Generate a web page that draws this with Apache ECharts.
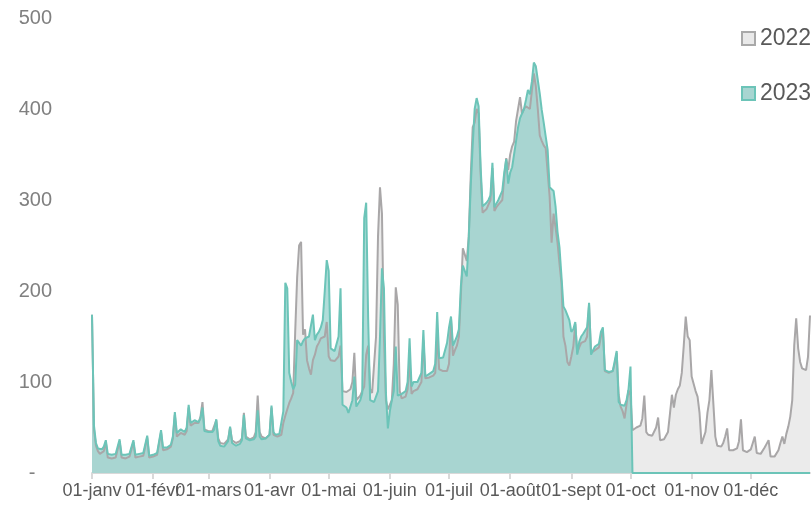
<!DOCTYPE html>
<html>
<head>
<meta charset="utf-8">
<script src="https://cdn.jsdelivr.net/npm/echarts@6/dist/echarts.min.js"></script>
<style>
  html, body { margin: 0; padding: 0; background: #fff; }
  #chart { width: 811px; height: 508px; }
</style>
</head>
<body>
<div id="chart"></div>
<script>
// months used for the day categories (labels shown only on the 1st)
const monthNames = ['janv', 'févr', 'mars', 'avr', 'mai', 'juin', 'juil', 'août', 'sept', 'oct', 'nov', 'déc'];
const monthLengths = [31, 28, 31, 30, 31, 30, 31, 31, 30, 31, 30, 31];
const seriesNames = ['2022', '2023'];
const yTicks = [0, 100, 200, 300, 400, 500];

// daily values, one row per week starting Jan 1
const values2022 = [
  174, 48, 30, 24, 21, 20, 24,
  34, 17, 16, 16, 17, 17, 18,
  35, 17, 16, 16, 17, 18, 19,
  34, 17, 17, 18, 18, 19, 20,
  39, 17, 17, 18, 19, 20, 22,
  45, 25, 25, 26, 27, 29, 38,
  64, 40, 42, 44, 44, 42, 46,
  72, 52, 54, 55, 54, 55, 62,
  78, 48, 46, 46, 46, 46, 48,
  58, 38, 33, 32, 32, 33, 37,
  50, 36, 34, 33, 34, 35, 38,
  66, 40, 38, 37, 38, 39, 45,
  85, 45, 40, 38, 38, 39, 42,
  72, 42, 40, 40, 41, 42, 55,
  63, 70, 77, 82, 88, 154, 215,
  250, 254, 152, 158, 124, 115, 108,
  124, 130, 139, 143, 148, 148, 150,
  166, 128, 124, 124, 123, 124, 128,
  140, 90, 88, 89, 90, 92, 100,
  132, 80, 82, 85, 87, 95, 130,
  140, 92, 88, 90, 150, 260, 314,
  285, 150, 80, 70, 70, 80, 120,
  204, 185, 90, 82, 82, 84, 92,
  124, 87, 90, 90, 92, 94, 100,
  146, 104, 105, 105, 106, 107, 110,
  150, 114, 112, 112, 111, 112, 120,
  170, 129, 135, 140, 150, 195, 247,
  240, 233, 260, 326, 380, 385, 400,
  395, 330, 286, 288, 290, 292, 300,
  335, 288, 292, 295, 297, 300, 325,
  346, 333, 350, 359, 364, 387, 400,
  413, 395, 400, 403, 405, 400, 420,
  439, 425, 400, 371, 365, 360, 357,
  355, 304, 253, 285, 270, 253, 230,
  209, 150, 140, 122, 118, 128, 139,
  164, 132, 138, 143, 144, 145, 150,
  185, 132, 134, 135, 137, 138, 150,
  158, 112, 111, 110, 110, 112, 120,
  132, 86, 73, 68, 60, 62, 91,
  85, 47, 48, 50, 51, 52, 60,
  85, 45, 42, 41, 41, 43, 50,
  61, 36, 37, 37, 38, 45, 65,
  86, 72, 86, 92, 96, 110, 140,
  172, 150, 146, 106, 98, 90, 84,
  66, 32, 32, 45, 66, 80, 113,
  111, 40, 30, 29, 29, 33, 40,
  49, 25, 25, 25, 25, 27, 35,
  59, 25, 24, 23, 23, 26, 33,
  40, 22, 20, 21, 22, 28, 32,
  36, 18, 18, 18, 19, 25, 33,
  40, 32, 43, 51, 62, 80, 140,
  170, 137, 122, 115, 113, 113, 128,
  173
];

const values2023 = [
  174, 52, 33, 27, 25, 26, 29,
  36, 21, 20, 20, 20, 21, 21,
  37, 20, 20, 20, 21, 21, 22,
  36, 20, 20, 21, 21, 22, 23,
  41, 19, 20, 20, 21, 22, 24,
  47, 28, 27, 28, 29, 31, 40,
  67, 44, 46, 48, 47, 45, 50,
  75, 55, 57, 58, 56, 56, 60,
  72, 46, 45, 45, 45, 45, 48,
  59, 35, 30, 29, 29, 30, 35,
  51, 33, 31, 30, 31, 32, 36,
  64, 38, 36, 36, 37, 37, 40,
  69, 40, 37, 37, 38, 38, 42,
  74, 45, 42, 42, 43, 44, 68,
  209, 203, 110, 100, 92, 97, 146,
  146, 140, 145, 148, 150, 150, 152,
  174, 146, 152, 155, 160, 168, 200,
  234, 222, 137, 135, 134, 136, 150,
  203, 75, 73, 72, 66, 68, 80,
  106, 73, 73, 80, 88, 280, 297,
  170, 80, 78, 78, 80, 90, 150,
  225, 203, 88, 49, 68, 80, 90,
  139, 85, 87, 87, 87, 90, 100,
  148, 95, 100, 100, 100, 102, 110,
  157, 106, 108, 109, 110, 112, 120,
  177, 126, 127, 127, 128, 143, 160,
  172, 140, 145, 150, 158, 205, 228,
  222, 216, 258, 315, 360, 400, 412,
  403, 337, 293, 295, 297, 300, 305,
  341, 292, 296, 300, 305, 310, 330,
  345, 318, 330, 336, 338, 365, 380,
  390, 392, 400, 410, 421, 416, 430,
  451, 447, 446, 417, 399, 385, 370,
  355, 314, 314, 310, 293, 265, 248,
  216, 183, 179, 177, 168, 155, 158,
  166, 130, 144, 150, 153, 155, 160,
  187, 130, 135, 139, 141, 142, 155,
  160, 113, 112, 111, 110, 112, 112,
  134, 78, 75, 75, 74, 80, 92,
  117, 0, 0, 0, 0, 0, 0,
  0, 0, 0, 0, 0, 0, 0,
  0, 0, 0, 0, 0, 0, 0,
  0, 0, 0, 0, 0, 0, 0,
  0, 0, 0, 0, 0, 0, 0,
  0, 0, 0, 0, 0, 0, 0,
  0, 0, 0, 0, 0, 0, 0,
  0, 0, 0, 0, 0, 0, 0,
  0, 0, 0, 0, 0, 0, 0,
  0, 0, 0, 0, 0, 0, 0,
  0, 0, 0, 0, 0, 0, 0,
  0, 0, 0, 0, 0, 0, 0,
  0, 0, 0, 0, 0, 0, 0,
  0
];

// "01-janv", "02-janv", ... one per day
const days = [];
monthNames.forEach((m, i) => {
  for (let d = 1; d <= monthLengths[i]; d++) {
    days.push((d < 10 ? '0' + d : '' + d) + '-' + m);
  }
});

const font = 'Liberation Sans, Arial, sans-serif';
const isMonthStart = (idx, val) => val.indexOf('01-') === 0;

const chart = echarts.init(document.getElementById('chart'));
chart.setOption({
  animation: false,
  legend: {
    orient: 'vertical',
    left: 736,
    top: 22,
    itemWidth: 13,
    itemHeight: 13,
    itemGap: 32,
    icon: 'rect',
    textStyle: { fontFamily: font, fontSize: 23, color: '#595959' },
    data: [
      { name: seriesNames[0], itemStyle: { color: '#e9e9e9', borderColor: '#a9a9a9', borderWidth: 2 } },
      { name: seriesNames[1], itemStyle: { color: '#a8d5d1', borderColor: '#6cc4b8', borderWidth: 2 } }
    ]
  },
  grid: { left: 92, right: 1, top: 18, bottom: 35 },
  xAxis: {
    type: 'category',
    data: days,
    boundaryGap: false,
    axisLine: { lineStyle: { color: '#d9d9d9', width: 2 } },
    axisTick: { interval: isMonthStart, length: 6, lineStyle: { color: '#d9d9d9', width: 2 } },
    axisLabel: { interval: isMonthStart, margin: 9, fontFamily: font, fontSize: 18, color: '#595959' },
    splitLine: { show: false }
  },
  yAxis: {
    type: 'value',
    min: yTicks[0],
    max: yTicks[yTicks.length - 1],
    interval: 100,
    axisLine: { show: false },
    axisTick: { show: false },
    splitLine: { show: false },
    axisLabel: {
      margin: 40,
      fontFamily: font,
      fontSize: 20,
      color: '#808080',
      formatter: v => (v === 0 ? '-   ' : String(v))
    }
  },
  series: [
    {
      name: seriesNames[0],
      type: 'line',
      data: values2022,
      symbol: 'none',
      lineStyle: { color: '#a9a7a8', width: 2 },
      itemStyle: { color: '#a9a7a8' },
      areaStyle: { color: '#ebebeb', opacity: 1 }
    },
    {
      name: seriesNames[1],
      type: 'line',
      data: values2023,
      symbol: 'none',
      lineStyle: { color: '#6cc4b8', width: 2 },
      itemStyle: { color: '#6cc4b8' },
      areaStyle: { color: 'rgba(123,198,192,0.6)', opacity: 1 }
    }
  ]
});
</script>
</body>
</html>
